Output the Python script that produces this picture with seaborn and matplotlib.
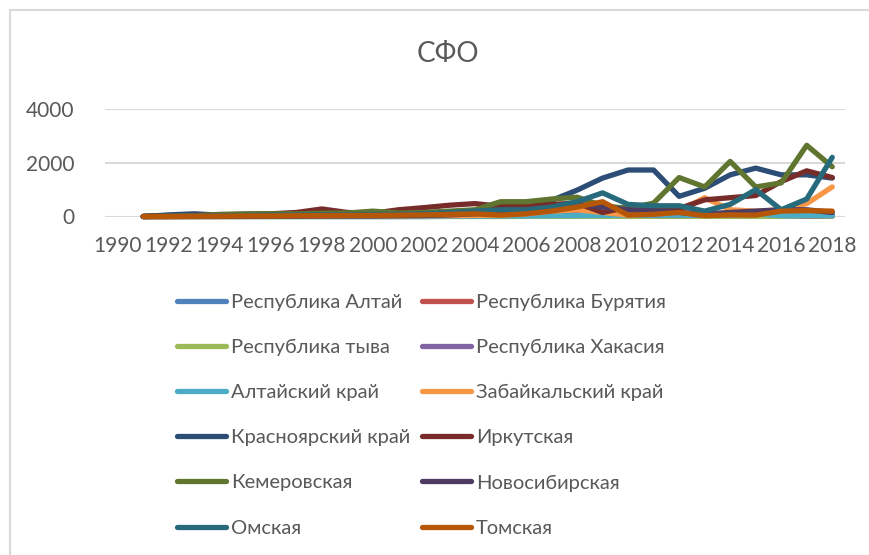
import numpy as np
import pandas as pd
import seaborn as sns
import matplotlib.pyplot as plt
from matplotlib.patches import Rectangle

# Data
years = list(range(1991, 2019))

regions = [
    "Республика Алтай", "Республика Бурятия",
    "Республика тыва", "Республика Хакасия",
    "Алтайский край", "Забайкальский край",
    "Красноярский край", "Иркутская",
    "Кемеровская", "Новосибирская",
    "Омская", "Томская",
]

altai_rep = [0, 0, 0, 0, 0, 0, 0, 0, 0, 0, 0, 0, 5, 5, 10, 10, 10, 10, 15, 20, 15, 10, 10, 10, 10, 10, 10, 10]
buryatia = [0, 0, 0, 5, 10, 10, 10, 20, 20, 30, 20, 20, 30, 40, 40, 50, 50, 60, 80, 100, 80, 60, 60, 80, 100, 60, 20, 30]
tyva = [0, 0, 0, 0, 0, 0, 0, 0, 0, 0, 0, 0, 0, 0, 0, 5, 5, 5, 5, 5, 5, 5, 5, 5, 5, 10, 30, 20]
khakasia = [0, 0, 0, 0, 5, 5, 5, 10, 10, 10, 20, 20, 30, 30, 40, 40, 50, 50, 60, 50, 40, 40, 50, 60, 80, 150, 120, 50]
altai_krai = [0, 0, 0, 0, 0, 0, 0, 0, 0, 0, 0, 0, 10, 10, 20, 20, 30, 30, 40, 40, 50, 50, 60, 80, 100, 30, 40, 40]
zabaykal = [0, 0, 0, 0, 0, 10, 10, 10, 20, 20, 20, 30, 30, 40, 50, 100, 200, 250, 150, 50, 100, 200, 700, 250, 200, 250, 480, 1100]
krasnoyarsk = [0, 60, 100, 50, 50, 60, 70, 80, 90, 100, 100, 120, 150, 200, 250, 300, 600, 980, 1430, 1730, 1730, 750, 1050, 1550, 1800, 1550, 1550, 1430]
irkutsk = [0, 20, 40, 60, 80, 100, 150, 280, 150, 120, 250, 330, 420, 480, 380, 380, 450, 500, 150, 350, 250, 300, 620, 700, 780, 1300, 1700, 1450]
kemerovo = [0, 10, 30, 80, 100, 100, 100, 120, 130, 200, 130, 150, 200, 250, 550, 550, 650, 720, 400, 300, 500, 1450, 1100, 2050, 1100, 1250, 2650, 1850]
novosibirsk = [0, 0, 5, 10, 10, 15, 15, 20, 20, 20, 30, 40, 60, 100, 150, 200, 300, 450, 350, 250, 200, 150, 100, 150, 200, 250, 250, 150]
omsk = [0, 10, 20, 30, 40, 50, 50, 60, 60, 80, 80, 100, 150, 200, 250, 250, 350, 550, 880, 450, 400, 400, 200, 450, 1000, 250, 650, 2200]
tomsk = [0, 0, 10, 10, 20, 20, 30, 30, 40, 40, 50, 60, 80, 100, 50, 100, 200, 350, 550, 50, 80, 150, 30, 60, 50, 200, 220, 200]

series = [altai_rep, buryatia, tyva, khakasia, altai_krai, zabaykal,
          krasnoyarsk, irkutsk, kemerovo, novosibirsk, omsk, tomsk]

colors = ["#4F81BD", "#C0504D", "#9BBB59", "#8064A2", "#4BACC6", "#F79646",
          "#2C4D75", "#772C2A", "#5F7530", "#4D3B62", "#276A7C", "#B65708"]

df = pd.DataFrame(
    [(y, r, v) for r, vals in zip(regions, series) for y, v in zip(years, vals)],
    columns=["year", "region", "value"],
)

sns.set_style("white")
plt.rcParams["font.family"] = ["Lato", "DejaVu Sans"]

fig = plt.figure(figsize=(8.69, 5.55), dpi=100)
ax = fig.add_axes([105 / 869, 1 - 216.5 / 555, 740 / 869, 107.5 / 555])

sns.lineplot(data=df, x="year", y="value", hue="region", hue_order=regions,
             palette=colors, linewidth=3.8, ax=ax, legend=True)

for line in ax.lines:
    line.set_clip_on(False)
    line.set_solid_capstyle("round")
    line.set_solid_joinstyle("round")

ax.set_xlim(1989.5, 2018.5)
ax.set_ylim(0, 4000)
ax.set_yticks([0, 2000, 4000])
ax.set_xticks(list(range(1990, 2019, 2)))
ax.yaxis.grid(True, color="#D9D9D9", linewidth=1.5)
ax.set_axisbelow(True)
sns.despine(ax=ax, left=True, bottom=True)
ax.tick_params(axis="both", length=0, labelsize=15, labelcolor="#595959")
ax.tick_params(axis="y", pad=22)
ax.tick_params(axis="x", pad=14)
ax.set_xlabel("")
ax.set_ylabel("")

fig.text(448 / 869, 1 - 54 / 555, "СФО", ha="center", va="center",
         fontsize=20, color="#595959")

# legend filled row by row, like Excel
handles, labels = ax.get_legend_handles_labels()
order = list(range(0, 12, 2)) + list(range(1, 12, 2))
ax.legend([handles[i] for i in order], [labels[i] for i in order],
          ncol=2, frameon=False, fontsize=14.5, labelcolor="#595959",
          handlelength=2.45, handletextpad=0.25, columnspacing=0.55,
          labelspacing=1.39, borderpad=0, borderaxespad=0,
          loc="upper left", bbox_to_anchor=(177 / 869, 1 - 294 / 555),
          bbox_transform=fig.transFigure)
for h in ax.get_legend().get_lines():
    h.set_linewidth(3.8)
    h.set_solid_capstyle("round")

# chart area border
fig.patches.append(Rectangle((10 / 869, -0.1), 1.2, 1 - 10 / 555 + 0.1,
                             transform=fig.transFigure, fill=False,
                             edgecolor="#D9D9D9", linewidth=1.5))

fig.savefig("out.png", dpi=100)
